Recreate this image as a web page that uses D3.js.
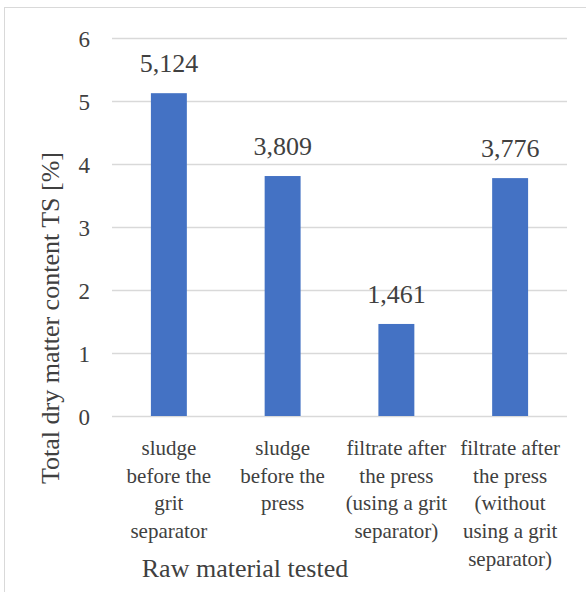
<!DOCTYPE html>
<html>
<head>
<meta charset="utf-8">
<script src="https://cdn.jsdelivr.net/npm/d3@7"></script>
<style>
  svg text, svg tspan { font-family: "Liberation Serif", Tinos, "Times New Roman", serif !important; }
</style>
</head>
<body style="margin:0">
<script>
const categories = [
  ["sludge", "before the", "grit", "separator"],
  ["sludge", "before the", "press"],
  ["filtrate after", "the press", "(using a grit", "separator)"],
  ["filtrate after", "the press", "(without", "using a grit", "separator)"]
];
const values = [5.124, 3.809, 1.461, 3.776];
const valueLabels = ["5,124", "3,809", "1,461", "3,776"];
const yTicks = [0, 1, 2, 3, 4, 5, 6];
const yTitle = "Total dry matter content TS [%]";
const xTitle = "Raw material tested";

const FONT = '"Liberation Serif", Tinos, "Times New Roman", serif';
const INK = "#404040";
const W = 586, H = 592;
const svg = d3.select("body").append("svg").attr("width", W).attr("height", H)
  .style("display", "block").style("font-family", FONT, "important");

// chart border
svg.append("rect").attr("x", 4.5).attr("y", 7.5).attr("width", 700).attr("height", 700)
  .attr("fill", "none").attr("stroke", "#d9d9d9").attr("stroke-width", 1);

const mLeft = 112, mRight = 567, mTop = 38, mBottom = 416;
const x = d3.scaleBand().domain(d3.range(categories.length)).range([mLeft, mRight]).paddingInner(0.684).paddingOuter(0.342);
const y = d3.scaleLinear().domain([0, 6]).range([mBottom, mTop]);

// gridlines
svg.append("g").selectAll("line").data(yTicks).join("line")
  .attr("x1", mLeft).attr("x2", mRight)
  .attr("y1", d => Math.round(y(d)) + 0.5).attr("y2", d => Math.round(y(d)) + 0.5)
  .attr("stroke", "#d9d9d9").attr("stroke-width", 1.3);

// y axis labels
const yAxis = d3.axisLeft(y).tickValues(yTicks).tickFormat(d3.format("d")).tickSize(0).tickPadding(0);
const ya = svg.append("g").attr("transform", "translate(90,0)").call(yAxis)
  .attr("font-family", null).attr("font-size", null);
ya.select(".domain").remove();
ya.selectAll("text").attr("font-size", 23).attr("fill", INK)
  .style("font-family", FONT, "important").attr("dy", "0.35em");

// bars
svg.append("g").selectAll("rect").data(values).join("rect")
  .attr("x", (d, i) => x(i)).attr("width", x.bandwidth())
  .attr("y", d => y(d)).attr("height", d => y(0) - y(d))
  .attr("fill", "#4472C4");

// data labels
svg.append("g").selectAll("text").data(values).join("text")
  .attr("x", (d, i) => x(i) + x.bandwidth() / 2)
  .attr("y", d => y(d) - 21)
  .attr("text-anchor", "middle").attr("font-size", 26)
  .attr("fill", INK).style("font-family", FONT, "important")
  .text((d, i) => valueLabels[i]);

// category labels
const cg = svg.append("g").selectAll("text").data(categories).join("text")
  .attr("text-anchor", "middle").attr("font-size", 21)
  .attr("fill", INK).style("font-family", FONT, "important")
  .attr("x", (d, i) => x(i) + x.bandwidth() / 2)
  .attr("y", 455);
cg.selectAll("tspan").data(d => d).join("tspan")
  .attr("x", function() { return d3.select(this.parentNode).attr("x"); })
  .attr("dy", (d, j) => j === 0 ? 0 : 27.7)
  .style("font-family", FONT, "important")
  .text(d => d);

// axis titles
svg.append("text").attr("x", 245).attr("y", 577).attr("text-anchor", "middle")
  .attr("font-size", 26).attr("fill", INK).style("font-family", FONT, "important").text(xTitle);
svg.append("text").attr("transform", "translate(59,318) rotate(-90)")
  .attr("text-anchor", "middle").attr("font-size", 26).attr("fill", INK)
  .style("font-family", FONT, "important").text(yTitle);
</script>
</body>
</html>
